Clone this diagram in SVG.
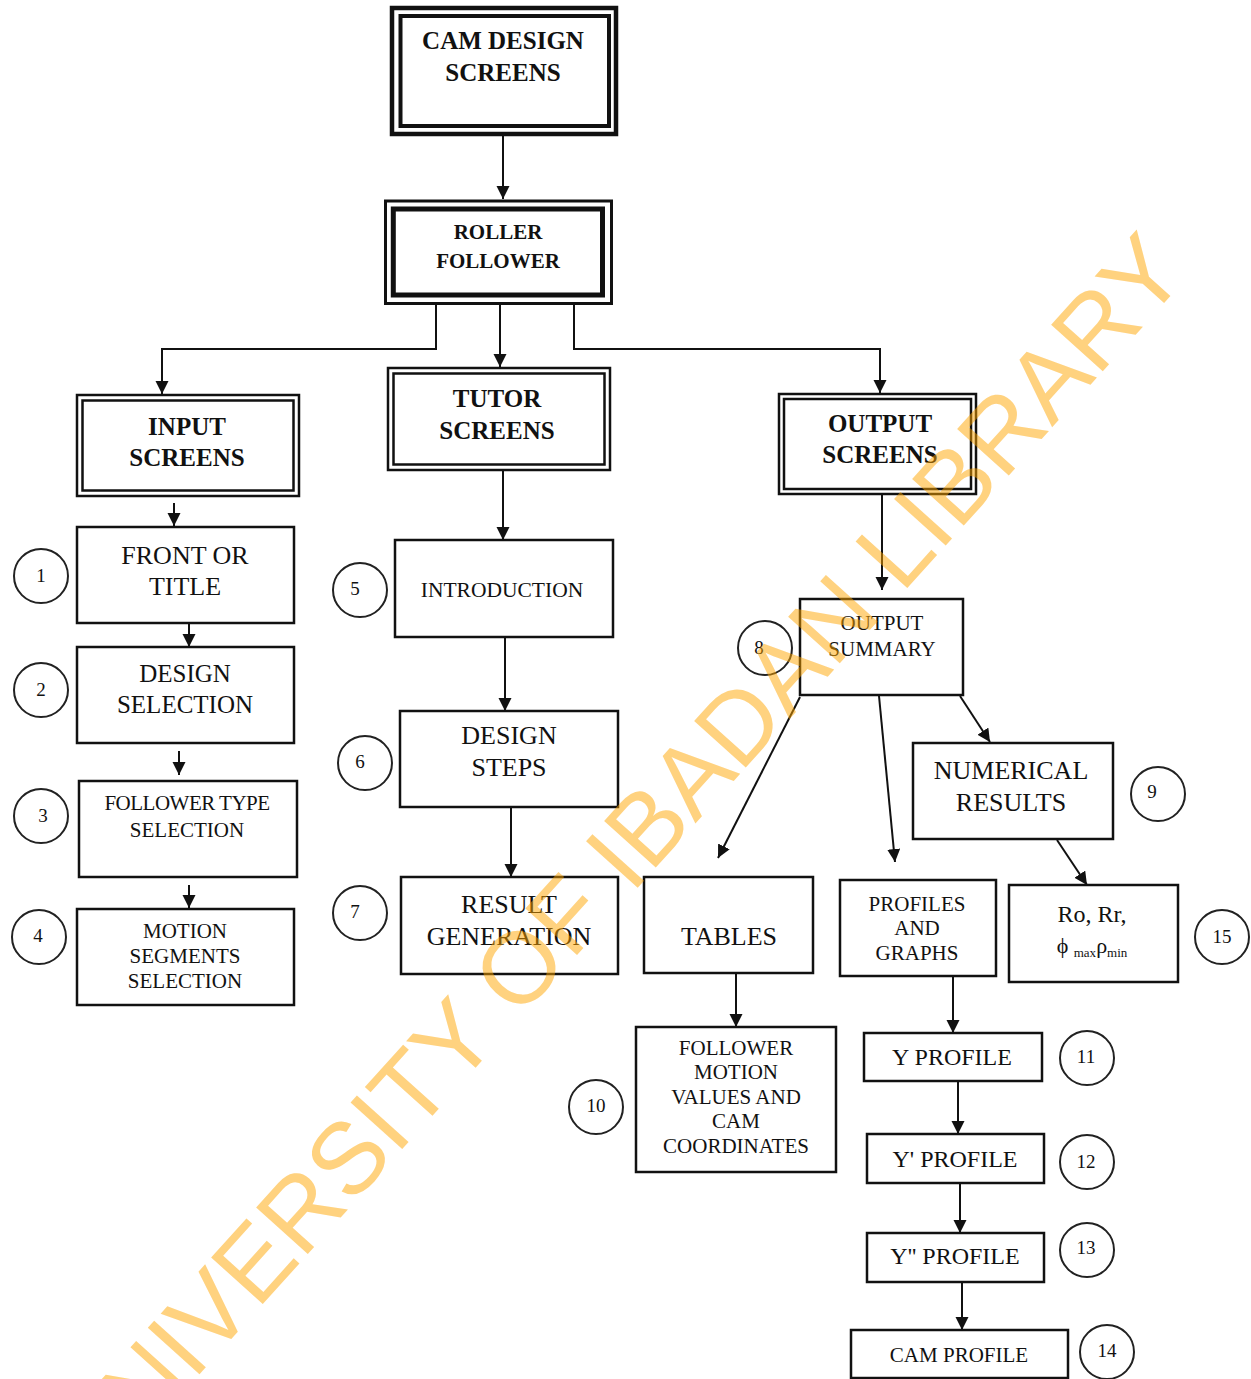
<svg xmlns="http://www.w3.org/2000/svg" width="1251" height="1379" viewBox="0 0 1251 1379">
<defs>
<marker id="arr" markerUnits="userSpaceOnUse" markerWidth="14" markerHeight="14" refX="13" refY="6.5" orient="auto">
<path d="M0,0 L13,6.5 L0,13 z" fill="#111"/>
</marker>
<style>
.box{fill:#fff;stroke:#111;stroke-width:2.5}
.thin{fill:none;stroke:#111;stroke-width:2.5}
.t{font-family:"Liberation Serif","Times New Roman",serif;fill:#111;text-anchor:middle}
.b{font-weight:bold;font-size:25px}
.num{fill:#fff;stroke:#222;stroke-width:2}
.n{font-family:"Liberation Serif","Times New Roman",serif;fill:#111;text-anchor:middle;font-size:19px}
.c{fill:none;stroke:#111;stroke-width:2}
.wm{font-family:"Liberation Sans",Arial,sans-serif;font-size:101px;fill:#FFA500;fill-opacity:0.5;text-anchor:middle}
</style>
</defs>
<rect width="1251" height="1379" fill="#fff"/>

<g id="connectors">
<path class="c" d="M503,136 V199" marker-end="url(#arr)"/>
<path class="c" d="M436,305 V349 H162 V394" marker-end="url(#arr)"/>
<path class="c" d="M500,305 V367" marker-end="url(#arr)"/>
<path class="c" d="M574,305 V349 H880 V393" marker-end="url(#arr)"/>
<path class="c" d="M174,503 V526" marker-end="url(#arr)"/>
<path class="c" d="M189,624 V647" marker-end="url(#arr)"/>
<path class="c" d="M179,751 V775" marker-end="url(#arr)"/>
<path class="c" d="M189,885 V908" marker-end="url(#arr)"/>
<path class="c" d="M503,471 V540" marker-end="url(#arr)"/>
<path class="c" d="M505,637 V711" marker-end="url(#arr)"/>
<path class="c" d="M511,807 V877" marker-end="url(#arr)"/>
<path class="c" d="M882,495 V590" marker-end="url(#arr)"/>
<path class="c" d="M960,696 L990,742" marker-end="url(#arr)"/>
<path class="c" d="M800,697 L718,858" marker-end="url(#arr)"/>
<path class="c" d="M879,696 L895,862" marker-end="url(#arr)"/>
<path class="c" d="M1057,840 L1087,885" marker-end="url(#arr)"/>
<path class="c" d="M736,973 V1027" marker-end="url(#arr)"/>
<path class="c" d="M953,977 V1033" marker-end="url(#arr)"/>
<path class="c" d="M958,1081 V1134" marker-end="url(#arr)"/>
<path class="c" d="M960,1183 V1233" marker-end="url(#arr)"/>
<path class="c" d="M962,1282 V1330" marker-end="url(#arr)"/>
</g>

<g id="cam-design-screens">
<rect x="392" y="8" width="224" height="126" fill="#fff" stroke="#111" stroke-width="4.5"/>
<rect x="400.5" y="16" width="208.5" height="110" fill="none" stroke="#111" stroke-width="4"/>
<text class="t b" x="503" y="49">CAM DESIGN</text>
<text class="t b" x="503" y="81">SCREENS</text>
</g>

<g id="roller-follower">
<rect x="385.5" y="201" width="226" height="102.5" fill="#fff" stroke="#111" stroke-width="3"/>
<rect x="393.3" y="209" width="209.2" height="86" fill="none" stroke="#111" stroke-width="5"/>
<text class="t" x="498" y="239" font-weight="bold" font-size="21">ROLLER</text>
<text class="t" x="498" y="268" font-weight="bold" font-size="21">FOLLOWER</text>
</g>

<g id="input-screens">
<rect x="77" y="395" width="222" height="101" fill="#fff" stroke="#111" stroke-width="2.5"/>
<rect class="thin" x="82.5" y="400.5" width="211" height="90" stroke-width="2"/>
<text class="t b" x="187" y="435">INPUT</text>
<text class="t b" x="187" y="466">SCREENS</text>
</g>

<g id="tutor-screens">
<rect x="388" y="368" width="222" height="102" fill="#fff" stroke="#111" stroke-width="2.5"/>
<rect class="thin" x="393.5" y="373.5" width="211" height="91" stroke-width="2"/>
<text class="t b" x="497" y="407">TUTOR</text>
<text class="t b" x="497" y="439">SCREENS</text>
</g>

<g id="output-screens">
<rect x="779" y="394" width="197" height="100" fill="#fff" stroke="#111" stroke-width="2.5"/>
<rect class="thin" x="784" y="399" width="187" height="90" stroke-width="2"/>
<text class="t b" x="880" y="432">OUTPUT</text>
<text class="t b" x="880" y="463">SCREENS</text>
</g>

<g id="front-or-title">
<rect class="box" x="77" y="527" width="217" height="96"/>
<text class="t" x="185" y="564" font-size="26">FRONT OR</text>
<text class="t" x="185" y="595" font-size="26">TITLE</text>
</g>
<g id="design-selection">
<rect class="box" x="77" y="647" width="217" height="96"/>
<text class="t" x="185" y="682" font-size="25">DESIGN</text>
<text class="t" x="185" y="713" font-size="25">SELECTION</text>
</g>
<g id="follower-type-selection">
<rect class="box" x="79" y="781" width="218" height="96"/>
<text class="t" x="187" y="810" font-size="21" letter-spacing="-0.5">FOLLOWER TYPE</text>
<text class="t" x="187" y="837" font-size="21">SELECTION</text>
</g>
<g id="motion-segments-selection">
<rect class="box" x="77" y="909" width="217" height="96"/>
<text class="t" x="185" y="938" font-size="21">MOTION</text>
<text class="t" x="185" y="963" font-size="21">SEGMENTS</text>
<text class="t" x="185" y="988" font-size="21">SELECTION</text>
</g>

<g id="introduction">
<rect class="box" x="395" y="540" width="218" height="97"/>
<text class="t" x="502" y="597" font-size="21.5">INTRODUCTION</text>
</g>
<g id="design-steps">
<rect class="box" x="400" y="711" width="218" height="96"/>
<text class="t" x="509" y="744" font-size="26">DESIGN</text>
<text class="t" x="509" y="776" font-size="26">STEPS</text>
</g>
<g id="result-generation">
<rect class="box" x="401" y="877" width="217" height="97"/>
<text class="t" x="509" y="913" font-size="26">RESULT</text>
<text class="t" x="509" y="945" font-size="26">GENERATION</text>
</g>

<g id="output-summary">
<rect class="box" x="800" y="599" width="163" height="96"/>
<text class="t" x="882" y="630" font-size="21">OUTPUT</text>
<text class="t" x="882" y="656" font-size="21">SUMMARY</text>
</g>
<g id="numerical-results">
<rect class="box" x="913" y="743" width="200" height="96"/>
<text class="t" x="1011" y="779" font-size="26">NUMERICAL</text>
<text class="t" x="1011" y="811" font-size="26">RESULTS</text>
</g>
<g id="tables">
<rect class="box" x="644" y="877" width="169" height="96"/>
<text class="t" x="729" y="945" font-size="26">TABLES</text>
</g>
<g id="profiles-and-graphs">
<rect class="box" x="840" y="880" width="156" height="96"/>
<text class="t" x="917" y="911" font-size="21">PROFILES</text>
<text class="t" x="917" y="935" font-size="21">AND</text>
<text class="t" x="917" y="960" font-size="21">GRAPHS</text>
</g>
<g id="ro-rr">
<rect class="box" x="1009" y="885" width="169" height="97"/>
<text class="t" x="1092" y="922" font-size="24">Ro, Rr,</text>
<text class="t" x="1092" y="953" font-size="22">ϕ <tspan font-size="13" dy="4">max</tspan><tspan dy="-4">ρ</tspan><tspan font-size="13" dy="4">min</tspan></text>
</g>
<g id="follower-motion-values">
<rect class="box" x="636" y="1027" width="200" height="145"/>
<text class="t" x="736" y="1055" font-size="21">FOLLOWER</text>
<text class="t" x="736" y="1079" font-size="21">MOTION</text>
<text class="t" x="736" y="1104" font-size="21">VALUES AND</text>
<text class="t" x="736" y="1128" font-size="21">CAM</text>
<text class="t" x="736" y="1153" font-size="21">COORDINATES</text>
</g>
<g id="y-profile">
<rect class="box" x="864" y="1033" width="178" height="48"/>
<text class="t" x="952" y="1065" font-size="24">Y PROFILE</text>
</g>
<g id="y1-profile">
<rect class="box" x="867" y="1134" width="177" height="49"/>
<text class="t" x="955" y="1167" font-size="24">Y' PROFILE</text>
</g>
<g id="y2-profile">
<rect class="box" x="867" y="1233" width="177" height="49"/>
<text class="t" x="955" y="1264" font-size="24">Y'' PROFILE</text>
</g>
<g id="cam-profile">
<rect class="box" x="851" y="1330" width="217" height="48"/>
<text class="t" x="959" y="1362" font-size="21">CAM PROFILE</text>
</g>

<g id="markers">
<circle class="num" cx="41" cy="576" r="27"/><text class="n" x="41" y="582">1</text>
<circle class="num" cx="41" cy="690" r="27"/><text class="n" x="41" y="696">2</text>
<circle class="num" cx="41" cy="816" r="27"/><text class="n" x="43" y="822">3</text>
<circle class="num" cx="39" cy="937" r="27"/><text class="n" x="38" y="942">4</text>
<circle class="num" cx="360" cy="590" r="27"/><text class="n" x="355" y="595">5</text>
<circle class="num" cx="365" cy="763" r="27"/><text class="n" x="360" y="768">6</text>
<circle class="num" cx="360" cy="913" r="27"/><text class="n" x="355" y="918">7</text>
<circle class="num" cx="765" cy="648" r="27"/><text class="n" x="759" y="654">8</text>
<circle class="num" cx="1158" cy="794" r="27"/><text class="n" x="1152" y="798">9</text>
<circle class="num" cx="596" cy="1107" r="27"/><text class="n" x="596" y="1112">10</text>
<circle class="num" cx="1087" cy="1058" r="27"/><text class="n" x="1086" y="1063">11</text>
<circle class="num" cx="1087" cy="1162" r="27"/><text class="n" x="1086" y="1168">12</text>
<circle class="num" cx="1087" cy="1250" r="27"/><text class="n" x="1086" y="1254">13</text>
<circle class="num" cx="1107" cy="1352" r="27"/><text class="n" x="1107" y="1357">14</text>
<circle class="num" cx="1222" cy="937" r="27"/><text class="n" x="1222" y="943">15</text>
</g>

<text class="wm" x="0" y="36" transform="translate(616,858) rotate(-48)">UNIVERSITY OF IBADAN LIBRARY</text>
</svg>
